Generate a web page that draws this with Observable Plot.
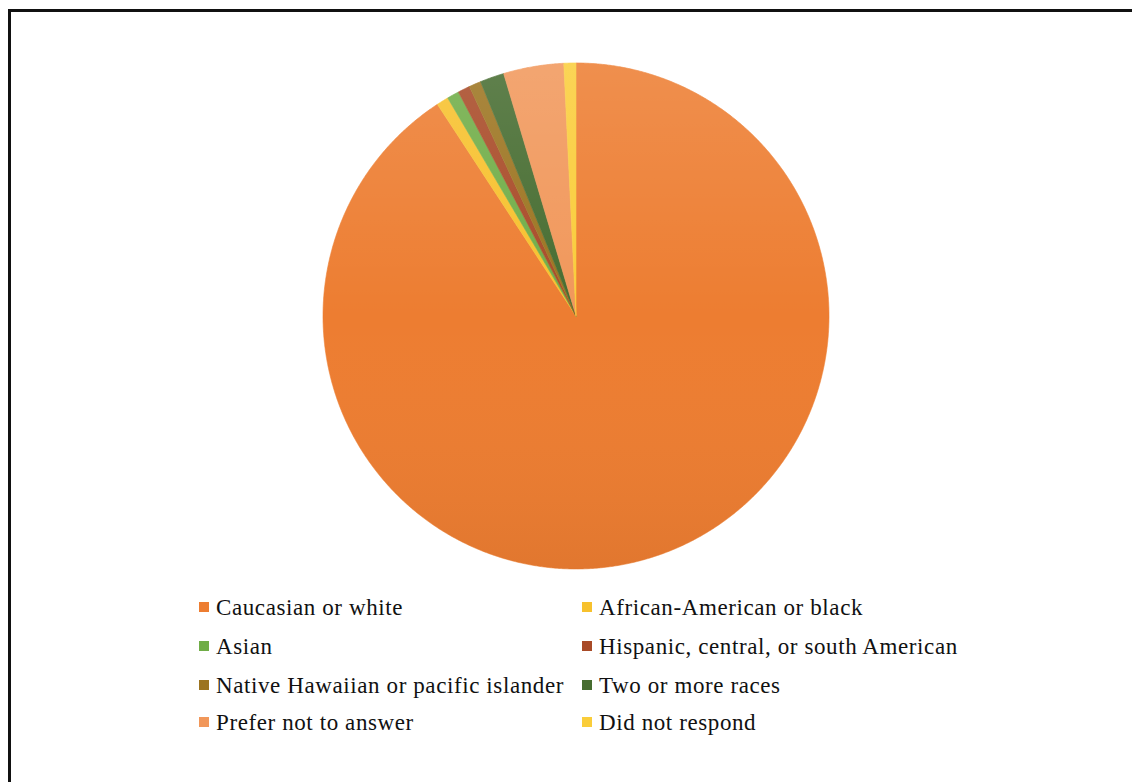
<!DOCTYPE html>
<html>
<head>
<meta charset="utf-8">
<script src="https://cdn.jsdelivr.net/npm/d3@7"></script>
<script src="https://cdn.jsdelivr.net/npm/@observablehq/plot@0.6"></script>
<style>
  html, body { margin: 0; padding: 0; background: #fff; }
  #frame { position: absolute; left: 8px; top: 9px; width: 1130px; height: 780px;
           border-top: 3px solid #111; border-left: 3px solid #111; box-sizing: border-box; }
  #chart { position: absolute; left: 0; top: 0; }
  #legend { position: absolute; left: 0; top: 0; width: 1132px; height: 782px; pointer-events: none;
            font-family: "Liberation Serif", "Times New Roman", serif; font-size: 23px;
            letter-spacing: 0.6px; color: #111; }
  .item { position: absolute; white-space: nowrap; height: 24px; display: flex; align-items: center; }
  .sw { display: inline-block; width: 10px; height: 10px; margin-right: 7px; flex: none; }
  .lab { position: relative; top: 1px; }
</style>
</head>
<body>
<div id="frame"></div>
<div id="chart"></div>
<div id="legend"></div>
<script>
const categories = [
  "Caucasian or white",
  "African-American or black",
  "Asian",
  "Hispanic, central, or south American",
  "Native Hawaiian or pacific islander",
  "Two or more races",
  "Prefer not to answer",
  "Did not respond"
];
const counts = [118, 1, 1, 1, 1, 2, 5, 1];
const colors = ["#ED7D31", "#F7C12D", "#70AD47", "#A84A27", "#9C7420", "#466C30", "#F1975A", "#FACD3A"];

// Excel draws series clockwise from 12 o'clock
const pie = d3.pie().sort(null).value(d => d.value);
const arcs = pie(categories.map((c, i) => ({cat: c, value: counts[i]})));

const pts = [];
for (const a of arcs) {
  pts.push({cat: a.data.cat, x: 0, y: 0});
  const n = Math.max(2, Math.ceil((a.endAngle - a.startAngle) / 0.005));
  for (let k = 0; k <= n; k++) {
    const t = a.startAngle + (a.endAngle - a.startAngle) * k / n;
    pts.push({cat: a.data.cat, x: Math.sin(t), y: Math.cos(t)});
  }
  pts.push({cat: a.data.cat, x: 0, y: 0});
}
const ring = d3.range(0, 721).map(k => ({x: Math.sin(k * Math.PI / 360), y: Math.cos(k * Math.PI / 360)}));

const cx = 575.5, cy = 315.5, R = 253;
const chart = Plot.plot({
  width: 1132,
  height: 590,
  margin: 0,
  x: {domain: [-1, 1], range: [cx - R, cx + R], axis: null},
  y: {domain: [-1, 1], range: [cy + R, cy - R], axis: null},
  color: {domain: categories, range: colors},
  style: {background: "transparent", overflow: "visible"},
  marks: [
    Plot.line(pts, {x: "x", y: "y", z: "cat", fill: "cat", stroke: "cat", strokeWidth: 0.6, curve: "linear"}),
    Plot.line(ring, {x: "x", y: "y", fill: "url(#shade)", stroke: "none"})
  ]
});
const defs = document.createElementNS("http://www.w3.org/2000/svg", "defs");
defs.innerHTML = `<linearGradient id="shade" x1="0" y1="0" x2="0" y2="1">
  <stop offset="0" stop-color="#fff" stop-opacity="0.14"/>
  <stop offset="0.5" stop-color="#fff" stop-opacity="0"/>
  <stop offset="1" stop-color="#000" stop-opacity="0.05"/>
</linearGradient>`;
chart.insertBefore(defs, chart.firstChild);
document.getElementById("chart").appendChild(chart);

const legend = document.getElementById("legend");
const colX = [199, 582];
const rowCenters = [607, 646, 685, 722];
categories.forEach((c, i) => {
  const div = document.createElement("div");
  div.className = "item";
  div.style.left = colX[i % 2] + "px";
  div.style.top = (rowCenters[Math.floor(i / 2)] - 12) + "px";
  div.innerHTML = `<span class="sw" style="background:${colors[i]}"></span><span class="lab">${c}</span>`;
  legend.appendChild(div);
});
</script>
</body>
</html>
